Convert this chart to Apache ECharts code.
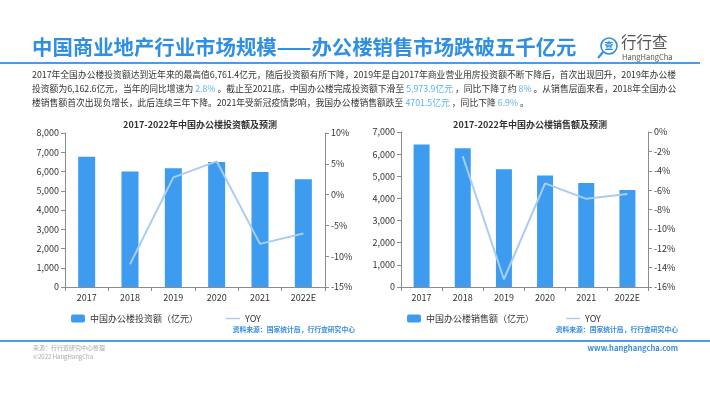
<!DOCTYPE html>
<html>
<head>
<meta charset="utf-8">
<script src="https://cdn.jsdelivr.net/npm/echarts@6/dist/echarts.min.js"></script>
<style>
  html, body { margin: 0; padding: 0; background: #fff; }
  #main { width: 710px; height: 399px; }
</style>
</head>
<body>
<div id="main"></div>
<script>
// data
var years = ['2017', '2018', '2019', '2020', '2021', '2022E']
var investValues = [6761.4, 5996.4, 6162.6, 6494, 5973.9, 5600]
var investYoy = [null, -11.3, 2.8, 5.4, -8, -6.3]
var salesValues = [6430, 6265, 5315, 5030, 4701.5, 4380]
var salesYoy = [null, -2.5, -15.2, -5.3, -6.9, -6.4]

var FONT = '"Noto Sans CJK SC", "Noto Sans", sans-serif'
var BAR = '#3d9bf0'
var LINE = '#a9cdf1'
var TEXT = '#333'
var AXIS = '#8c8c8c'
var LINE_ICON = 'path://M0,0 L20,0 L20,2 L0,2 Z'

var chart = echarts.init(document.getElementById('main'))

function hl(s) { return '{b|' + s + '}' }

var para = [
  '2017年全国办公楼投资额达到近年来的最高值6,761.4亿元，随后投资额有所下降，2019年是自2017年商业营业用房投资额不断下降后，首次出现回升，2019年办公楼',
  '投资额为6,162.6亿元，当年的同比增速为 ' + hl('2.8%') + ' 。截止至2021底，中国办公楼完成投资额下滑至 ' + hl('5,973.9亿元') + ' ，同比下降了约 ' + hl('8%') + ' 。从销售层面来看，2018年全国办公',
  '楼销售额首次出现负增长，此后连续三年下降。2021年受新冠疫情影响，我国办公楼销售额跌至 ' + hl('4701.5亿元') + ' ，同比下降 ' + hl('6.9%') + ' 。'
]

function axisLabel(fmt) {
  return { color: TEXT, fontSize: 9, fontFamily: FONT, formatter: fmt, margin: 6 }
}
function thousands(v) { return v === 0 ? '0' : v.toLocaleString('en-US') }
function pct(v) { return v + '%' }

function xAxis(idx) {
  return {
    type: 'category', gridIndex: idx, data: years,
    axisLine: { lineStyle: { color: AXIS } },
    axisTick: { show: true, length: 4, lineStyle: { color: AXIS } },
    axisLabel: axisLabel(null)
  }
}
function yAxis(idx, pos, min, max, interval, fmt) {
  return {
    type: 'value', gridIndex: idx, position: pos, min: min, max: max, interval: interval,
    splitLine: { show: false },
    axisLine: { show: true, lineStyle: { color: AXIS } },
    axisTick: { show: true, length: 4, lineStyle: { color: AXIS } },
    axisLabel: axisLabel(fmt)
  }
}

var graphics = [
  { type: 'text', left: 32, top: 37, style: { text: '中国商业地产行业市场规模——办公楼销售市场跌破五千亿元', fill: '#2f8fe2', font: 'bold 20.4px ' + FONT } },
  { type: 'rect', shape: { x: 0, y: 62, width: 700, height: 2 }, style: { fill: '#4a9be8' } },
  // logo
  { type: 'circle', shape: { cx: 609, cy: 46, r: 8 }, style: { fill: 'none', stroke: '#2f8fe2', lineWidth: 1.6 } },
  { type: 'text', x: 609, y: 46, style: { text: '查', fill: '#2f8fe2', font: 'bold 9px ' + FONT, align: 'center', verticalAlign: 'middle' } },
  { type: 'line', shape: { x1: 603, y1: 52, x2: 598, y2: 58 }, style: { stroke: '#2f8fe2', lineWidth: 2 } },
  { type: 'text', left: 621, top: 34, style: { text: '行行查', fill: '#555', font: '15.5px ' + FONT } },
  { type: 'text', left: 622, top: 53, style: { text: 'HangHangCha', fill: '#555', font: '7.5px ' + FONT } },
  // footer
  { type: 'rect', shape: { x: 0, y: 340, width: 710, height: 2 }, style: { fill: '#4a9be8' } },
  { type: 'text', left: 33, top: 345, style: { text: '来源：行行查研究中心整理', fill: '#aaa', font: '6px ' + FONT } },
  { type: 'text', left: 33, top: 354, style: { text: '©2022 HangHangCha', fill: '#aaa', font: '6px ' + FONT } },
  { type: 'text', right: 32, top: 344, style: { text: 'www.hanghangcha.com', fill: '#3a8ee0', font: 'bold 7.6px ' + FONT } },
  // sources
  { type: 'text', right: 355, top: 326, style: { text: '资料来源：国家统计局，行行查研究中心', fill: '#3a8ee0', font: 'bold 6.8px ' + FONT } },
  { type: 'text', right: 32, top: 326, style: { text: '资料来源：国家统计局，行行查研究中心', fill: '#3a8ee0', font: 'bold 6.8px ' + FONT } }
]
para.forEach(function (line, i) {
  graphics.push({
    type: 'text', left: 32, top: 70 + i * 14,
    style: {
      text: line, fill: TEXT, font: '8.8px ' + FONT,
      rich: { b: { fill: '#5ab2f0', font: '8.8px ' + FONT } }
    }
  })
})

chart.setOption({
  animation: false,
  textStyle: { fontFamily: FONT },
  title: [
    { text: '2017-2022年中国办公楼投资额及预测', left: 195, top: 115, textAlign: 'center', textStyle: { fontSize: 9, fontWeight: 'bold', color: TEXT } },
    { text: '2017-2022年中国办公楼销售额及预测', left: 525, top: 115, textAlign: 'center', textStyle: { fontSize: 9, fontWeight: 'bold', color: TEXT } }
  ],
  legend: [
    { data: [{ name: '中国办公楼投资额（亿元）' }, { name: 'YOY', icon: LINE_ICON }], left: 66, top: 309, itemWidth: 14, itemHeight: 8, itemGap: 28, textStyle: { fontSize: 9, color: TEXT } },
    { data: [{ name: '中国办公楼销售额（亿元）' }, { name: 'YOY ', icon: LINE_ICON }], left: 402, top: 309, itemWidth: 14, itemHeight: 8, itemGap: 32, textStyle: { fontSize: 9, color: TEXT } }
  ],
  grid: [
    { left: 65, top: 133, width: 260, height: 154 },
    { left: 401, top: 132, width: 247, height: 155 }
  ],
  xAxis: [xAxis(0), xAxis(1)],
  yAxis: [
    yAxis(0, 'left', 0, 8000, 1000, thousands),
    yAxis(0, 'right', -15, 10, 5, pct),
    yAxis(1, 'left', 0, 7000, 1000, thousands),
    yAxis(1, 'right', -16, 0, 2, pct)
  ],
  series: [
    { name: '中国办公楼投资额（亿元）', type: 'bar', xAxisIndex: 0, yAxisIndex: 0, data: investValues, barWidth: 17, itemStyle: { color: BAR } },
    { name: 'YOY', type: 'line', xAxisIndex: 0, yAxisIndex: 1, data: investYoy, symbol: 'none', lineStyle: { color: LINE, width: 2 }, itemStyle: { color: LINE } },
    { name: '中国办公楼销售额（亿元）', type: 'bar', xAxisIndex: 1, yAxisIndex: 2, data: salesValues, barWidth: 16, itemStyle: { color: BAR } },
    { name: 'YOY ', type: 'line', xAxisIndex: 1, yAxisIndex: 3, data: salesYoy, symbol: 'none', lineStyle: { color: LINE, width: 2 }, itemStyle: { color: LINE } }
  ],
  graphic: graphics
})
</script>
</body>
</html>
